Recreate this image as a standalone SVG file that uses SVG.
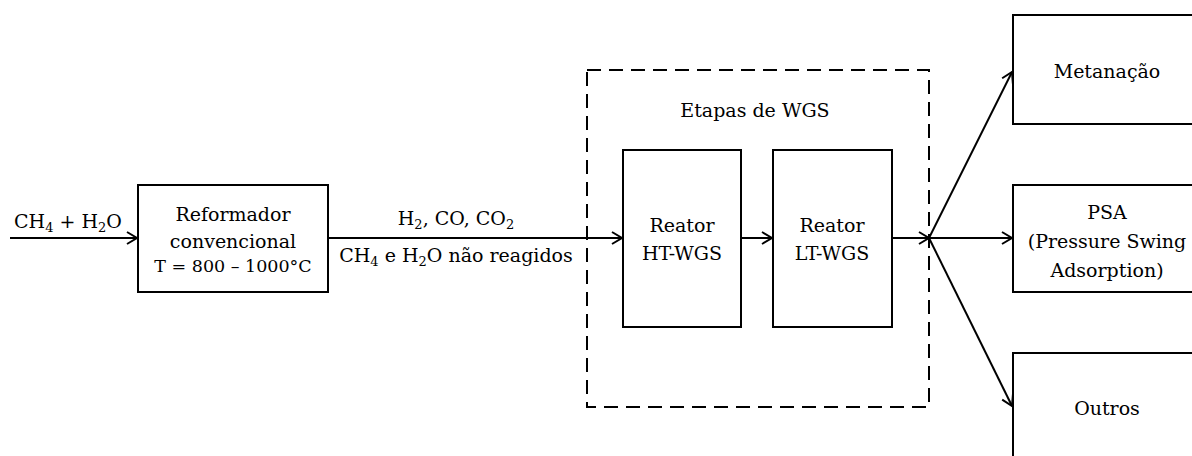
<svg xmlns="http://www.w3.org/2000/svg" width="1192" height="456" viewBox="0 0 1192 456">
<defs>
<marker id="arr" markerWidth="14" markerHeight="14" refX="12" refY="7" orient="auto" markerUnits="userSpaceOnUse">
<path d="M2,1 L12,7 L2,13" fill="none" stroke="#000" stroke-width="2"/>
</marker>
<style>
text{font-family:"DejaVu Serif","Liberation Serif",serif;font-size:19px;fill:#000;text-anchor:middle}
.box{fill:#fff;stroke:#000;stroke-width:2}
.dash{fill:none;stroke:#000;stroke-width:2;stroke-dasharray:14,8}
.ln{fill:none;stroke:#000;stroke-width:2;marker-end:url(#arr)}
.small{font-size:17.5px}
</style>
</defs>
<rect width="1192" height="456" fill="#fff"/>
<g id="wgs-group">
<rect class="dash" x="587" y="70" width="342" height="337"/>
<text x="755" y="117">Etapas de WGS</text>
</g>
<g id="connectors">
<line class="ln" x1="10" y1="238" x2="137" y2="238"/>
<line class="ln" x1="328" y1="238" x2="622" y2="238"/>
<line class="ln" x1="741" y1="238" x2="772" y2="238"/>
<line class="ln" x1="892" y1="238" x2="929" y2="238"/>
<line class="ln" x1="929" y1="238" x2="1012" y2="72"/>
<line class="ln" x1="929" y1="238" x2="1012" y2="238"/>
<line class="ln" x1="929" y1="238" x2="1012" y2="406"/>
</g>
<g id="labels">
<text x="68" y="228">CH<tspan font-size="13" dy="4">4</tspan><tspan dy="-4"> + H</tspan><tspan font-size="13" dy="4">2</tspan><tspan dy="-4">O</tspan></text>
<text x="456" y="225">H<tspan font-size="13" dy="4">2</tspan><tspan dy="-4">, CO, CO</tspan><tspan font-size="13" dy="4">2</tspan></text>
<text x="456" y="262">CH<tspan font-size="13" dy="4">4</tspan><tspan dy="-4"> e H</tspan><tspan font-size="13" dy="4">2</tspan><tspan dy="-4">O não reagidos</tspan></text>
</g>
<g id="reformador">
<rect class="box" x="138" y="185" width="190" height="107"/>
<text x="233" y="221">Reformador</text>
<text x="233" y="248">convencional</text>
<text class="small" x="233" y="272">T = 800 – 1000°C</text>
</g>
<g id="ht-wgs">
<rect class="box" x="623" y="150" width="118" height="177"/>
<text x="682" y="232">Reator</text>
<text x="682" y="260">HT-WGS</text>
</g>
<g id="lt-wgs">
<rect class="box" x="773" y="150" width="119" height="177"/>
<text x="832" y="232">Reator</text>
<text x="832" y="260">LT-WGS</text>
</g>
<g id="metanacao">
<rect class="box" x="1013" y="15" width="190" height="109"/>
<text x="1107" y="78">Metanação</text>
</g>
<g id="psa">
<rect class="box" x="1013" y="185" width="190" height="107"/>
<text x="1107" y="219">PSA</text>
<text x="1107" y="248">(Pressure Swing</text>
<text x="1107" y="277">Adsorption)</text>
</g>
<g id="outros">
<rect class="box" x="1013" y="353" width="190" height="120"/>
<text x="1107" y="415">Outros</text>
</g>
</svg>
